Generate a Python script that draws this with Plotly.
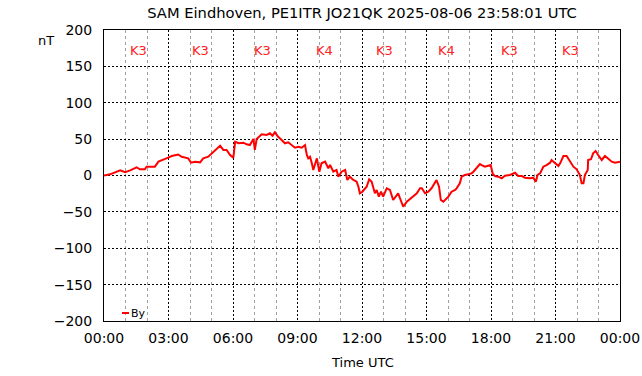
import plotly.graph_objects as go
import pandas as pd

# Data (minutes after 2025-08-06 00:00 UTC, By in nT)
minutes = [0,17,45,59,73,91,100,114,119,142,
           152,165,179,189,207,217,226,235,243,254,
           268,277,291,305,319,324,333,342,352,361,
           366,375,389,398,407,417,421,426,440,454,
           463,470,477,486,496,505,514,524,533,542,
           552,561,566,570,575,580,584,594,601,607,
           617,626,631,640,649,654,663,673,679,686,
           696,705,710,714,721,733,740,747,756,761,
           767,773,779,789,798,807,814,821,826,835,
           845,854,863,873,882,887,896,905,914,924,
           928,935,940,947,952,961,970,980,984,993,
           998,1007,1017,1026,1031,1040,1049,1054,1063,1072,
           1079,1085,1091,1100,1110,1119,1133,1147,1156,1166,
           1175,1189,1198,1205,1210,1217,1226,1235,1245,1249,
           1259,1268,1273,1282,1291,1300,1310,1319,1328,1333,
           1338,1342,1350,1351,1359,1365,1372,1379,1389,1398,
           1407,1417,1426,1435,1440]
by_nT = [0,1.6,7.1,4.4,7.1,11.3,8.5,8.5,12.1,12.1,
         19.0,21.3,24.5,26.8,28.9,25.8,24.5,23.6,17.6,19.0,
         18.1,23.6,25.8,32.7,39.6,41.0,35.1,35.1,28.2,24.5,
         46.5,44.3,45.1,42.9,41.9,50.2,35.1,50.2,56.6,55.7,
         58.0,54.7,59.4,53.3,48.8,44.3,45.6,41.9,38.2,39.6,
         38.2,41.9,28.2,23.6,25.8,16.8,7.6,23.6,5.2,16.8,
         19.0,9.9,14.4,5.2,7.6,-1.6,5.2,7.6,-6.2,-1.6,
         -6.2,-8.5,-15.4,-24.5,-22.3,-15.4,-5.2,-8.5,-24.5,-19.9,
         -29.1,-22.3,-29.1,-17.6,-19.9,-33.7,-29.1,-24.5,-31.3,-42.9,
         -36.0,-32.7,-29.1,-24.5,-17.6,-17.6,-24.5,-22.3,-17.6,-10.7,
         -6.2,-15.4,-33.7,-36.0,-33.7,-29.1,-22.3,-19.9,-17.6,-10.7,
         -1.6,0.7,1.6,3.0,5.2,9.9,15.8,14.4,12.1,13.5,
         14.4,2.1,-0.7,-1.6,-3.8,-0.3,0.7,3.8,-0.7,-0.7,
         -3.0,-3.8,-3.0,-8.5,0.7,3.0,12.1,14.4,17.6,21.3,
         17.6,13.1,16.8,26.8,26.8,19.0,12.1,8.5,0.7,-10.7,
         -10.7,0.7,7.6,21.3,22.3,30.5,33.7,28.2,21.3,26.8,
         23.6,19.0,17.6,19.0,19.0]

k_labels = ["K3", "K3", "K3", "K4", "K3", "K4", "K3", "K3"]
k_minutes = [95, 268, 441, 614, 784, 957, 1132, 1303]
k_level = 172.5

title_text = "SAM Eindhoven, PE1ITR JO21QK 2025-08-06 23:58:01 UTC"
start = pd.Timestamp("2025-08-06 00:00:00")
end = pd.Timestamp("2025-08-07 00:00:00")

t = start + pd.to_timedelta(minutes, unit="m")
tk = start + pd.to_timedelta(k_minutes, unit="m")

FONT = "DejaVu Sans"
fig = go.Figure()
fig.add_trace(go.Scatter(x=t, y=by_nT, mode="lines", name="By",
                         line=dict(color="#ff0000", width=2), showlegend=False))

for lab, x in zip(k_labels, tk):
    fig.add_annotation(x=x, y=k_level, xref="x", yref="y", text=lab, showarrow=False,
                       font=dict(family=FONT, size=13, color="#ff2020"))

# legend-like key
fig.add_shape(type="line", xref="paper", yref="paper", x0=18/516, x1=25/516,
              y0=8/291, y1=8/291, line=dict(color="#ff0000", width=2))
fig.add_annotation(xref="paper", yref="paper", x=25/516, y=8/291, text="By",
                   xanchor="left", yanchor="middle", showarrow=False,
                   font=dict(family=FONT, size=11, color="#000000"))

fig.add_annotation(xref="paper", yref="paper", x=-58/516, y=1-11/291, text="nT",
                   xanchor="center", yanchor="middle", showarrow=False,
                   font=dict(family=FONT, size=13, color="#000000"))
fig.add_annotation(xref="paper", yref="paper", x=0.5, y=-41/291, text="Time UTC",
                   xanchor="center", yanchor="middle", showarrow=False,
                   font=dict(family=FONT, size=13, color="#000000"))

fig.update_layout(
    width=642, height=376,
    margin=dict(l=104, r=22, t=30, b=55, autoexpand=False),
    paper_bgcolor="white", plot_bgcolor="white",
    title=dict(text=title_text, x=362/642, xanchor="center", y=1-13/376, yanchor="middle",
               font=dict(family=FONT, size=14.7, color="#000000")),
    font=dict(family=FONT, size=14, color="#000000"),
    showlegend=False,
)
fig.update_xaxes(
    type="date", range=[start, end], tickformat="%H:%M", dtick=3*3600000,
    tick0=start, showgrid=True, gridcolor="#000000", griddash="2px,2px", gridwidth=1,
    showline=True, linecolor="#000000", linewidth=1, mirror=True,
    ticks="outside", ticklen=4, tickcolor="rgba(0,0,0,0)", automargin=False,
    minor=dict(dtick=3600000, tick0=start, showgrid=True, gridcolor="#a0a0a0",
               griddash="3px,3px", gridwidth=1),
    zeroline=False, tickfont=dict(family=FONT, size=14),
)
fig.update_yaxes(
    range=[-200, 200], dtick=50, tick0=0, showgrid=True, gridcolor="#000000",
    griddash="2px,2px", gridwidth=1, zeroline=False, automargin=False,
    showline=True, linecolor="#000000", linewidth=1, mirror=True,
    ticks="outside", ticklen=8, tickcolor="rgba(0,0,0,0)",
    tickfont=dict(family=FONT, size=14),
)
fig.write_html("out.html", config={"displayModeBar": False},
               post_script="document.body.style.margin='0';document.body.style.overflow='hidden';")
